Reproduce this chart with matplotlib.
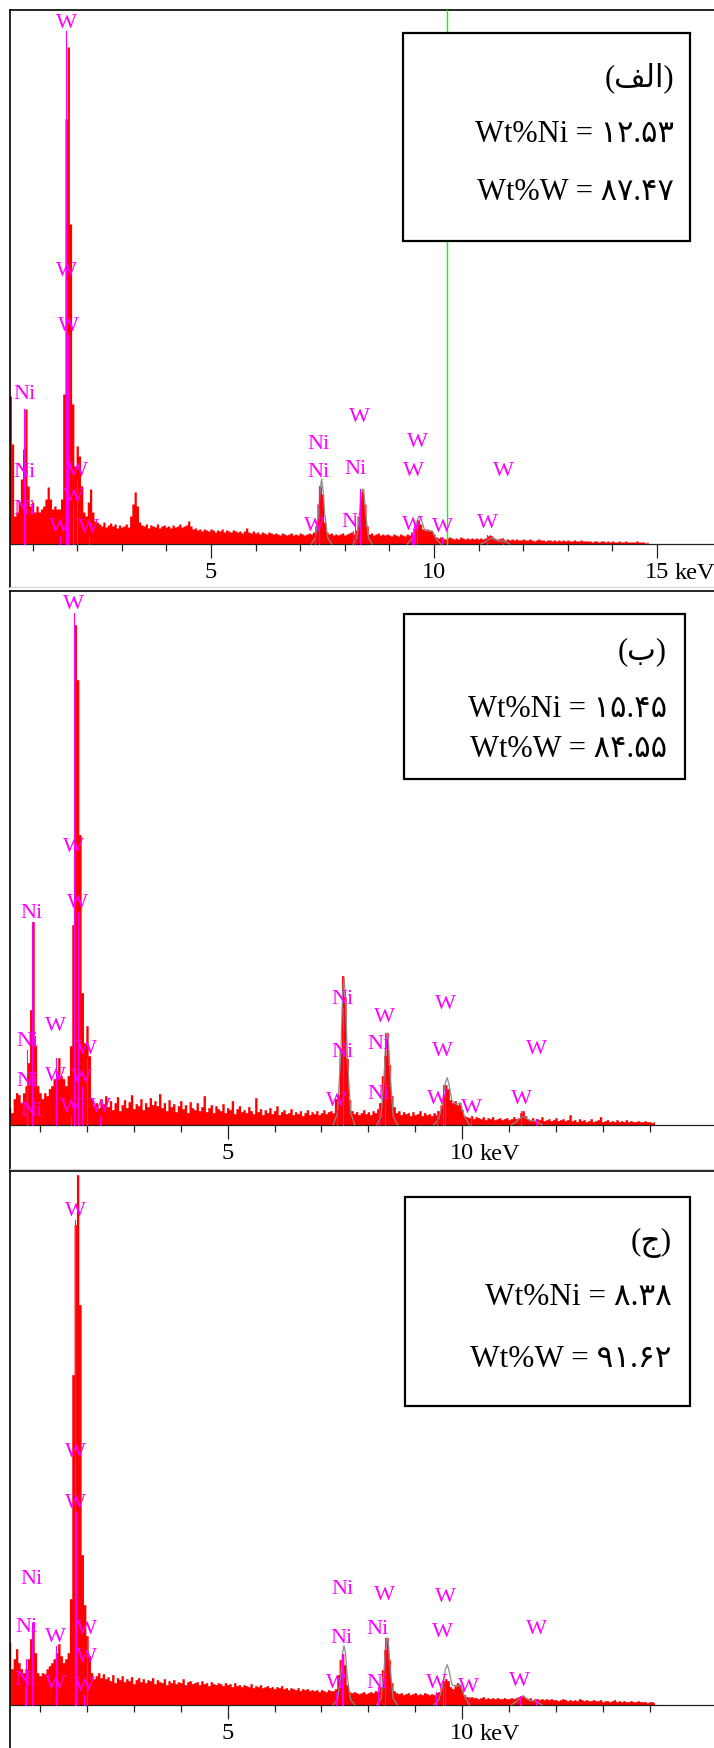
import matplotlib
matplotlib.use("Agg")
import matplotlib.pyplot as plt
from matplotlib.lines import Line2D
from matplotlib.patches import Rectangle
import numpy as np

W_PX, H_PX = 714, 1749

# ---- data -------------------------------------------------------------
step = 0.05  # keV per channel

p1_start = 0.45
p1_counts = [
    150, 148, 100, 28, 32, 42, 65, 95, 135, 58,
    38, 42, 32, 38, 32, 35, 38, 45, 57, 45,
    35, 38, 35, 35, 45, 150, 425, 497, 320, 140,
    78, 98, 88, 58, 32, 28, 42, 55, 32, 23,
    22, 20, 18, 22, 17, 19, 21, 18, 20, 16,
    19, 17, 18, 20, 17, 28, 40, 52, 38, 22,
    19, 18, 20, 16, 19, 18, 17, 20, 16, 18,
    19, 17, 18, 16, 19, 17, 18, 20, 17, 18,
    19, 23, 18, 15, 16, 14, 15, 13, 15, 14,
    13, 15, 14, 12, 14, 13, 15, 12, 14, 13,
    12, 14, 13, 12, 13, 11, 13, 16, 12, 11,
    13, 11, 12, 10, 12, 11, 10, 12, 11, 10,
    11, 10, 9, 11, 10, 9, 10, 11, 9, 10,
    9, 11, 10, 9, 10, 11, 10, 12, 18, 40,
    58, 50, 22, 12, 10, 11, 9, 10, 9, 10,
    11, 9, 10, 11, 12, 10, 14, 28, 48, 55,
    40, 18, 10, 11, 9, 10, 11, 9, 10, 9,
    10, 9, 8, 10, 9, 8, 10, 9, 8, 10,
    9, 12, 16, 20, 24, 20, 15, 14, 15, 14,
    13, 10, 7, 6, 7, 6, 5, 6, 7, 6,
    5, 6, 5, 7, 6, 5, 6, 5, 6, 5,
    6, 5, 6, 5, 6, 8, 9, 8, 6, 5,
    5, 6, 5, 4, 5, 4, 5, 4, 5, 4,
    4, 5, 4, 4, 5, 4, 3, 4, 5, 4,
    4, 3, 4, 4, 3, 4, 3, 4, 3, 4,
    3, 4, 3, 3, 4, 3, 3, 4, 3, 3,
    3, 3, 2, 3, 3, 2, 3, 3, 2, 3,
    2, 3, 2, 2, 3, 2, 2, 3, 2, 2,
    2, 2, 3, 2, 2, 2, 1, 2,
]

p2_start = 0.35
p2_counts = [
    17, 12, 26, 32, 30, 22, 32, 39, 62, 115,
    203, 79, 39, 32, 26, 32, 29, 36, 39, 46,
    52, 67, 49, 46, 39, 49, 79, 200, 500, 445,
    290, 132, 82, 99, 69, 26, 19, 22, 17, 26,
    21, 29, 18, 24, 15, 22, 28, 14, 20, 25,
    17, 23, 30, 16, 21, 19, 26, 15, 22, 18,
    27, 20, 24, 19, 31, 17, 22, 14, 25, 18,
    21, 13, 19, 24, 16, 20, 12, 23, 17, 15,
    22, 14, 18, 29, 13, 17, 20, 12, 19, 16,
    14, 21, 12, 17, 15, 24, 11, 16, 19, 13,
    15, 12, 18, 14, 11, 27, 13, 16, 10, 15,
    12, 17, 11, 14, 19, 10, 13, 15, 11, 12,
    16, 10, 13, 11, 14, 9, 12, 15, 10, 13,
    11, 14, 10, 12, 15, 11, 13, 14, 12, 26,
    30, 75, 149, 128, 66, 25, 14, 11, 13, 10,
    12, 15, 11, 13, 10, 14, 12, 16, 22, 49,
    69, 92, 60, 29, 18, 12, 14, 10, 13, 11,
    12, 9, 13, 10, 11, 14, 9, 12, 10, 11,
    9, 12, 10, 14, 20, 30, 40, 36, 25, 22,
    24, 20, 22, 15, 9, 8, 7, 9, 6, 8,
    7, 6, 8, 5, 7, 6, 8, 5, 6, 7,
    5, 6, 7, 5, 6, 8, 6, 7, 12, 14,
    9, 6, 5, 7, 4, 6, 5, 8, 4, 5,
    6, 4, 5, 7, 4, 5, 6, 4, 5, 10,
    4, 5, 3, 6, 4, 5, 3, 4, 6, 3,
    4, 5, 8, 3, 4, 5, 3, 4, 3, 5,
    3, 4, 3, 5, 3, 4, 3, 3, 4, 3,
    3, 4, 3, 3, 2, 3,
]

p3_start = 0.35
p3_counts = [
    62, 36, 46, 56, 42, 36, 32, 36, 46, 66,
    82, 52, 32, 29, 32, 31, 36, 39, 42, 46,
    52, 61, 49, 42, 46, 52, 106, 330, 480, 530,
    400, 150, 100, 69, 49, 32, 26, 29, 32, 27,
    31, 26, 28, 24, 30, 22, 27, 25, 29, 23,
    26, 24, 28, 21, 25, 27, 23, 26, 22, 25,
    24, 27, 21, 25, 23, 22, 26, 20, 24, 22,
    25, 21, 23, 22, 26, 20, 23, 24, 21, 22,
    23, 20, 24, 21, 22, 19, 23, 21, 20, 22,
    21, 19, 22, 20, 21, 18, 22, 19, 20, 18,
    20, 19, 18, 21, 17, 19, 18, 20, 17, 18,
    19, 17, 18, 16, 18, 17, 19, 16, 17, 15,
    17, 16, 15, 17, 14, 16, 15, 16, 14, 15,
    14, 15, 13, 15, 14, 13, 15, 14, 14, 16,
    30, 45, 51, 40, 20, 13, 12, 13, 12, 11,
    12, 13, 11, 12, 13, 12, 14, 13, 18, 35,
    55, 67, 45, 22, 14, 12, 11, 12, 10, 11,
    12, 10, 11, 12, 10, 11, 10, 12, 11, 10,
    11, 10, 12, 13, 18, 24, 26, 24, 18, 16,
    20, 22, 20, 16, 10, 8, 7, 8, 7, 7,
    6, 7, 8, 6, 7, 6, 7, 6, 7, 6,
    6, 7, 6, 6, 7, 6, 7, 8, 9, 9,
    7, 6, 7, 5, 6, 6, 5, 6, 5, 6,
    5, 6, 5, 5, 4, 5, 6, 5, 4, 5,
    4, 5, 4, 6, 5, 4, 5, 4, 4, 5,
    4, 4, 5, 3, 4, 4, 3, 4, 5, 3,
    4, 3, 4, 3, 3, 4, 3, 3, 4, 3,
    3, 3, 2, 3, 3, 2,
]

# fitted peak outlines (grey)
fit_nika_kev = [7.25, 7.34, 7.41, 7.45, 7.48, 7.51, 7.55, 7.62, 7.71]
fit_wla_kev = [8.18, 8.27, 8.33, 8.37, 8.40, 8.43, 8.47, 8.53, 8.62]
fit_wlb_kev = [9.40, 9.50, 9.58, 9.64, 9.68, 9.72, 9.78, 9.88, 9.96, 10.05, 10.15]
fit_wlg_kev = [11.05, 11.15, 11.25, 11.30, 11.35, 11.45, 11.55, 11.62, 11.70]

p1_fit_nika = [0, 6, 30, 55, 65, 55, 30, 6, 0]
p1_fit_wla = [0, 6, 30, 50, 55, 50, 30, 6, 0]
p1_fit_wlb = [0, 5, 16, 26, 28, 24, 15, 13, 13, 5, 0]
p1_fit_wlg = [0, 2, 5, 6, 5, 3, 3, 2, 0]

p2_fit_nika = [0, 12, 70, 130, 147, 130, 70, 12, 0]
p2_fit_wla = [0, 8, 45, 82, 92, 82, 45, 8, 0]
p2_fit_wlb = [0, 6, 22, 42, 47, 40, 24, 20, 22, 8, 0]
p2_fit_wlg = [0, 3, 7, 8, 7, 4, 4, 2, 0]

p3_fit_nika = [0, 5, 28, 52, 59, 52, 28, 5, 0]
p3_fit_wla = [0, 6, 33, 60, 67, 60, 33, 6, 0]
p3_fit_wlb = [0, 5, 18, 35, 40, 34, 20, 18, 20, 8, 0]
p3_fit_wlg = [0, 3, 7, 9, 7, 4, 4, 2, 0]

# line markers: element, energy (keV), label height
p1_markers = [
    ("W", 1.76, 522), ("W", 1.76, 273), ("W", 1.80, 218),
    ("Ni", 0.81, 150), ("Ni", 0.82, 72), ("Ni", 0.82, 35),
    ("W", 2.00, 73), ("W", 1.91, 47), ("W", 1.61, 17), ("W", 2.26, 16),
    ("Ni", 7.42, 100), ("Ni", 7.42, 72), ("W", 7.33, 18),
    ("W", 8.33, 127), ("Ni", 8.23, 75), ("Ni", 8.18, 22),
    ("W", 9.62, 102), ("W", 9.55, 73), ("W", 9.51, 19), ("W", 10.18, 17),
    ("W", 11.55, 73), ("W", 11.19, 21),
]
p2_markers = [
    ("W", 1.72, 521), ("W", 1.72, 278), ("W", 1.80, 222),
    ("Ni", 0.825, 212), ("Ni", 0.73, 84), ("Ni", 0.73, 44), ("Ni", 0.82, 14),
    ("W", 1.33, 99), ("W", 1.33, 49), ("W", 1.99, 76), ("W", 1.89, 47),
    ("W", 1.65, 18), ("W", 2.28, 18),
    ("Ni", 7.45, 126), ("Ni", 7.45, 73), ("W", 7.33, 24),
    ("W", 8.35, 108), ("Ni", 8.22, 81), ("Ni", 8.22, 31),
    ("W", 9.64, 121), ("W", 9.58, 74), ("W", 9.47, 26), ("W", 10.19, 17),
    ("W", 11.58, 76), ("W", 11.26, 26),
]
p3_markers = [
    ("W", 1.75, 494), ("W", 1.75, 253), ("W", 1.76, 202),
    ("Ni", 0.825, 126), ("Ni", 0.71, 78), ("Ni", 0.68, 25),
    ("W", 1.33, 68), ("W", 1.33, 21), ("W", 1.99, 76), ("W", 1.99, 48),
    ("W", 1.94, 19),
    ("Ni", 7.45, 116), ("Ni", 7.43, 67), ("W", 7.31, 22),
    ("W", 8.35, 110), ("Ni", 8.20, 76), ("Ni", 8.20, 22),
    ("W", 9.64, 108), ("W", 9.58, 73), ("W", 9.45, 22), ("W", 10.14, 18),
    ("W", 11.58, 76), ("W", 11.23, 24),
]

# composition (wt%)
wt_ni = [12.53, 15.45, 8.38]
wt_w = [87.47, 84.55, 91.62]
# panel tags in visual (left-to-right) order: (الف) (ب) (ج)
tags = ["(\ufed2\ufedf\u0627)", "(\ufe8f)", "(\ufe9d)"]

# ---- layout (pixels) ---------------------------------------------------
LEFT = 9.5
panels = [
    dict(top=10.7, base=545.0, bottom=588.0, kev_px=44.6, zero=-12.0,
         start=p1_start, counts=p1_counts,
         fits=[p1_fit_nika, p1_fit_wla, p1_fit_wlb, p1_fit_wlg],
         markers=p1_markers, majors=[5, 10, 15], minors=[1, 2, 3, 4, 6, 7, 8, 9, 11, 12, 13, 14],
         box=(403, 34, 690, 242), rows=(78, 135, 192), right=674, fs=22, green=10.285),
    dict(top=592.0, base=1125.7, bottom=1170.0, kev_px=46.9, zero=-6.8,
         start=p2_start, counts=p2_counts,
         fits=[p2_fit_nika, p2_fit_wla, p2_fit_wlb, p2_fit_wlg],
         markers=p2_markers, majors=[5, 10], minors=[1, 2, 3, 4, 6, 7, 8, 9, 11, 12, 13, 14],
         box=(404, 615, 685, 780), rows=(652, 710, 750), right=667, fs=22, green=None),
    dict(top=1171.7, base=1705.7, bottom=1752.0, kev_px=46.9, zero=-6.8,
         start=p3_start, counts=p3_counts,
         fits=[p3_fit_nika, p3_fit_wla, p3_fit_wlb, p3_fit_wlg],
         markers=p3_markers, majors=[5, 10], minors=[1, 2, 3, 4, 6, 7, 8, 9, 11, 12, 13, 14],
         box=(405, 1198, 690, 1407), rows=(1243, 1298, 1360), right=672, fs=22.5, green=None),
]
fit_kevs = [fit_nika_kev, fit_wla_kev, fit_wlb_kev, fit_wlg_kev]

SERIF = ["Liberation Serif", "DejaVu Sans"]
RED = "#ff0000"
MAGENTA = "#ff00ff"
persian = str.maketrans("0123456789", "\u06f0\u06f1\u06f2\u06f3\u06f4\u06f5\u06f6\u06f7\u06f8\u06f9")

fig = plt.figure(figsize=(W_PX / 100, H_PX / 100), dpi=100)


def fx(px):
    return px / W_PX


def fy(py):
    return 1 - py / H_PX


for i, p in enumerate(panels):
    right_px = W_PX + 10
    ax = fig.add_axes([fx(LEFT), fy(p["bottom"]), (right_px - LEFT) / W_PX,
                       (p["bottom"] - p["top"]) / H_PX])
    ax.set_xlim((LEFT - p["zero"]) / p["kev_px"], (right_px - p["zero"]) / p["kev_px"])
    ax.set_ylim(-(p["bottom"] - p["base"]), p["base"] - p["top"])

    counts = np.array(p["counts"], dtype=float)
    kev = p["start"] + step * np.arange(len(counts))
    ax.fill_between(kev, counts, step="mid", color=RED, lw=0, zorder=2)

    for fk, fc in zip(fit_kevs, p["fits"]):
        ax.plot(fk, fc, color="#8c8c8c", lw=0.9, zorder=3)

    top_h = max(m[2] for m in p["markers"])
    for el, e, h in p["markers"]:
        # the marker line shows where the spectrum is under it,
        # except the main line, which runs up to its label
        j = int(round((e - p["start"]) / step))
        local = counts[max(j - 1, 0):j + 2].max()
        y_end = h - 9 if h == top_h else min(h - 9, local)
        ax.plot([e, e], [0, y_end], color=MAGENTA, lw=0.8, zorder=4)
        ax.text(e, h, el, color=MAGENTA, fontsize=16, family=SERIF,
                ha="center", va="center", zorder=5)

    if p["green"] is not None:
        ax.plot([p["green"], p["green"]], [0, p["base"] - p["top"]],
                color="#00ff00", lw=1.0, zorder=4)

    ax.spines["right"].set_visible(False)
    ax.spines["top"].set_linewidth(1.2)
    ax.spines["left"].set_linewidth(1.2)
    ax.spines["bottom"].set_position(("data", 0))
    ax.spines["bottom"].set_color("#222222")
    ax.spines["bottom"].set_linewidth(0.9)
    ax.set_yticks([])
    ax.set_xticks(p["majors"])
    ax.set_xticklabels([str(m) for m in p["majors"]], family=SERIF, fontsize=17.5)
    ax.set_xticks(p["minors"], minor=True)
    ax.tick_params(axis="x", which="major", length=10, width=0.9, pad=2.5, color="#222222")
    ax.tick_params(axis="x", which="minor", length=5, width=0.9, color="#222222")
    ax.annotate("keV", xy=(p["majors"][-1], 0), xytext=(12.5, -13),
                textcoords="offset points", ha="left", va="top",
                family=SERIF, fontsize=17.5)

    # faint frame line under the panel
    fig.add_artist(Line2D([fx(LEFT), 1], [fy(p["bottom"]), fy(p["bottom"])],
                          color="#d0d0d0", lw=0.8))

    # composition box
    x0, y0, x1, y1 = p["box"]
    fig.add_artist(Rectangle((fx(x0), fy(y1)), (x1 - x0) / W_PX, (y1 - y0) / H_PX,
                             transform=fig.transFigure, facecolor="white",
                             edgecolor="black", lw=1.6, zorder=5))
    texts = [tags[i],
             "Wt%Ni = " + f"{wt_ni[i]:.2f}".translate(persian),
             "Wt%W = " + f"{wt_w[i]:.2f}".translate(persian)]
    for t, ry in zip(texts, p["rows"]):
        fig.text(fx(p["right"]), fy(ry), t, ha="right", va="center",
                 fontsize=p["fs"], family=SERIF, zorder=6)

fig.savefig("out.png", dpi=100)
